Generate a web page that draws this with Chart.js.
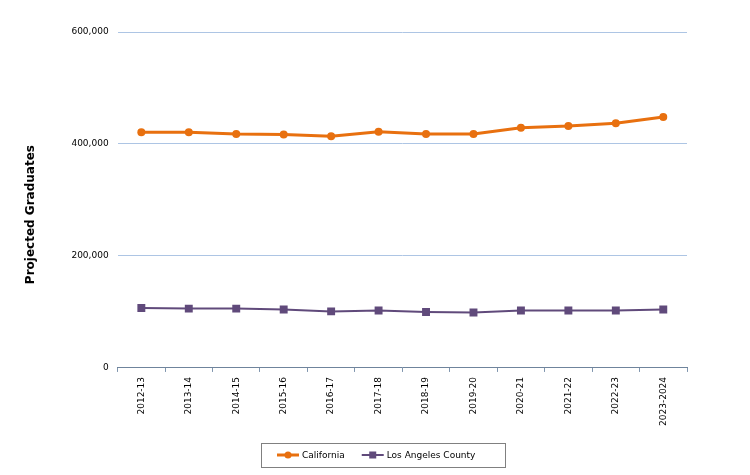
<!DOCTYPE html>
<html><head><meta charset="utf-8">
<script src="https://cdn.jsdelivr.net/npm/chart.js@4/dist/chart.umd.min.js"></script>
<style>html,body{margin:0;padding:0;background:#fff}#wrap{width:750px;height:475px}</style>
</head><body><div id="wrap"><canvas id="c" width="750" height="475"></canvas></div>
<script>
const categories = ['2012-13','2013-14','2014-15','2015-16','2016-17','2017-18','2018-19','2019-20','2020-21','2021-22','2022-23','2023-2024'];
const california = [421000,421000,418000,417000,414000,422000,418000,418000,429000,432000,437000,448000];
const losAngeles = [107000,106000,106000,104500,101000,102500,100000,99000,102500,102500,102500,104500];
const yTicks = [0,200000,400000,600000];

const FONT = "Verdana, 'DejaVu Sans', sans-serif";
const ORANGE = '#E8700F';
const PURPLE = '#604A7B';

// Custom legend drawn below the chart (line + marker icons, framed box)
const boxedLegend = {
  id:'boxedLegend',
  afterDraw(chart){
    const g = chart.ctx;
    const ds = chart.data.datasets;
    g.save();
    g.font = '9px ' + FONT;
    g.textBaseline = 'middle';
    const iconW = 22, gapText = 3, gapItem = 17;
    const widths = ds.map(d => iconW + gapText + g.measureText(d.label).width);
    const total = widths.reduce((a,b)=>a+b,0) + gapItem*(ds.length-1);
    const cx = 376, cy = 455;
    let x = Math.round(cx - total/2);
    const bx0 = x - 16, bx1 = x + total + 30;
    g.strokeStyle = '#808080'; g.lineWidth = 1;
    g.strokeRect(bx0+0.5, cy-12+0.5, Math.round(bx1-bx0), 24);
    ds.forEach((d,i)=>{
      g.strokeStyle = d.borderColor; g.lineWidth = d.borderWidth;
      g.beginPath(); g.moveTo(x, cy); g.lineTo(x+iconW, cy); g.stroke();
      g.fillStyle = d.borderColor;
      if (d.pointStyle === 'rect') { g.fillRect(x+iconW/2-3.5, cy-3.5, 7, 7); }
      else { g.beginPath(); g.arc(x+iconW/2, cy, 3.5, 0, Math.PI*2); g.fill(); }
      g.fillStyle = '#000';
      g.fillText(d.label, x + iconW + gapText, cy + 0.5);
      x += widths[i] + gapItem;
    });
    g.restore();
  }
};

new Chart(document.getElementById('c'), {
  type:'line',
  data:{
    labels: categories,
    datasets:[
      {label:'California', data:california, borderColor:ORANGE, backgroundColor:ORANGE, borderWidth:3,
       pointStyle:'circle', pointRadius:4, pointBackgroundColor:ORANGE, pointBorderColor:ORANGE, pointBorderWidth:0, tension:0},
      {label:'Los Angeles County', data:losAngeles, borderColor:PURPLE, backgroundColor:PURPLE, borderWidth:2,
       pointStyle:'rect', pointRadius:5.6, pointBackgroundColor:PURPLE, pointBorderColor:PURPLE, pointBorderWidth:0, tension:0}
    ]
  },
  options:{
    responsive:false, animation:false,
    layout:{padding:{left:20,right:63,top:32,bottom:44}},
    plugins:{
      tooltip:{enabled:false},
      legend:{display:false}
    },
    scales:{
      x:{
        offset:true,
        grid:{display:true, drawOnChartArea:false, offset:true, tickLength:4, color:'#8096AE'},
        border:{display:true, color:'#6F849C', width:1},
        ticks:{minRotation:90, maxRotation:90, font:{family:FONT,size:9}, color:'#000', padding:5}
      },
      y:{
        min:0, max:600000,
        afterBuildTicks(axis){ axis.ticks = yTicks.map(v=>({value:v})); },
        grid:{color:'#ADC5E4', lineWidth:1, drawTicks:false},
        border:{display:false},
        ticks:{font:{family:FONT,size:9}, color:'#000', padding:9,
          callback:v=>v.toLocaleString('en-US')},
        title:{display:true, text:'Projected Graduates' + '\u00a0'.repeat(7), font:{family:FONT,size:12,weight:'bold'}, color:'#000', padding:{bottom:24}}
      }
    }
  },
  plugins:[boxedLegend]
});
</script></body></html>
